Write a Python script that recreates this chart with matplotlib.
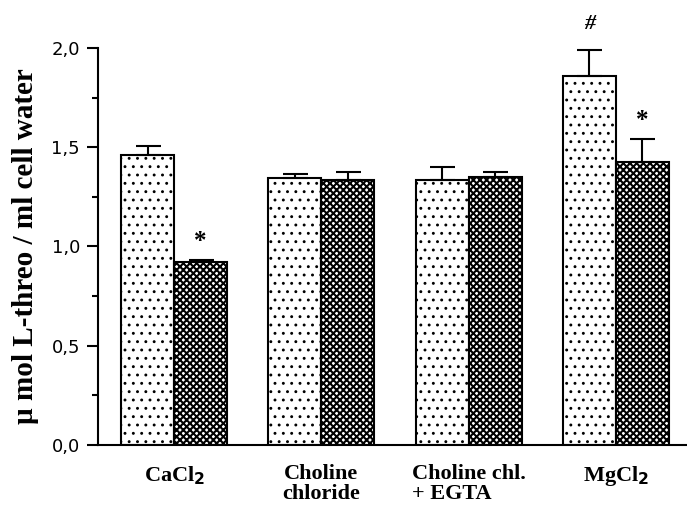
import numpy as np
import matplotlib
matplotlib.use("Agg")
import matplotlib.pyplot as plt
from matplotlib.ticker import FuncFormatter, MultipleLocator

categories = ["CaCl$_\\mathbf{2}$", "Choline\nchloride", "Choline chl.\n+ EGTA", "MgCl$_\\mathbf{2}$"]
control = [1.46, 1.343, 1.335, 1.86]
control_err = [0.048, 0.021, 0.064, 0.13]
treated = [0.92, 1.335, 1.352, 1.425]
treated_err = [0.013, 0.04, 0.025, 0.118]
marks_control = ["", "", "", "#"]
marks_treated = ["*", "", "", "*"]

fig = plt.figure(figsize=(6.87, 5.07), dpi=100)
ax = fig.add_axes([0.1427, 0.1223, 0.8573, 0.7831])

x = np.arange(len(categories))
w = 0.36
light = ax.bar(x - w/2, control, w, facecolor="white", edgecolor="black", hatch="..",
               linewidth=1.5, yerr=[np.zeros(4), control_err], capsize=9,
               error_kw=dict(elinewidth=1.5, capthick=1.5, ecolor="black"))
dark = ax.bar(x + w/2, treated, w, facecolor="white", edgecolor="black", hatch="xxxxx",
              linewidth=1.5, yerr=[np.zeros(4), treated_err], capsize=9,
              error_kw=dict(elinewidth=1.5, capthick=1.5, ecolor="black"))
for b in light:
    b.set_hatch_linewidth(0.9)
for b in dark:
    b.set_hatch_linewidth(1.5)

for i in range(len(categories)):
    if marks_control[i]:
        ax.text(x[i] - w/2, control[i] + control_err[i] + 0.13, marks_control[i],
                ha="center", va="center", fontsize=16, fontweight="bold",
                family="Liberation Serif", style="italic", clip_on=False)
    if marks_treated[i]:
        ax.text(x[i] + w/2, treated[i] + treated_err[i] + 0.09, marks_treated[i],
                ha="center", va="center", fontsize=18, fontweight="bold",
                family="Liberation Serif")

ax.set_xlim(-0.517, 3.483)
ax.set_ylim(0, 2.0)
ax.yaxis.set_major_locator(MultipleLocator(0.5))
ax.yaxis.set_minor_locator(MultipleLocator(0.25))
ax.yaxis.set_major_formatter(FuncFormatter(lambda v, p: f"{v:.1f}".replace(".", ",")))
ax.tick_params(axis="y", which="major", length=8, width=1.5, labelsize=13, pad=5)
ax.tick_params(axis="y", which="minor", length=4, width=1.5)
ax.set_xticks(x)
ax.set_xticklabels(categories, fontsize=16, fontweight="bold", family="Liberation Serif",
                   linespacing=1.0)
ax.get_xticklabels()[2].set_multialignment("left")
ax.tick_params(axis="x", length=0, pad=14)

ax.spines["top"].set_visible(False)
ax.spines["right"].set_visible(False)
ax.spines["left"].set_linewidth(1.5)
ax.spines["bottom"].set_linewidth(1.5)

ax.set_ylabel("µ mol L-threo / ml cell water", fontsize=21, fontweight="bold",
              family="Liberation Serif", labelpad=9)

fig.savefig("out.png", dpi=100)
